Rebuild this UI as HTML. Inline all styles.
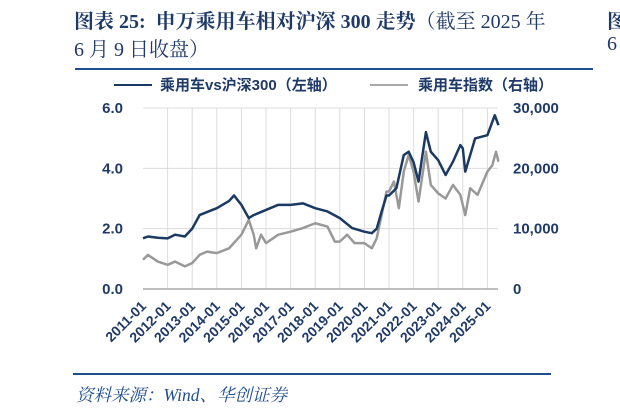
<!DOCTYPE html>
<html><head><meta charset="utf-8"><style>
body{margin:0;background:#fff;}
#wrap{position:relative;width:620px;height:414px;overflow:hidden;font-family:"Liberation Sans","Noto Sans CJK SC",sans-serif;}
.t{position:absolute;color:#1f3a68;font-family:"Liberation Serif","Noto Serif CJK SC",serif;font-size:20px;white-space:nowrap;}
</style></head><body>
<div id="wrap">
<div class="t" style="left:74px;top:5px;font-weight:bold;">图表 25:&nbsp; 申万乘用车相对沪深 300 走势<span style="font-weight:normal">（截至 2025 年</span></div>
<div class="t" style="left:74px;top:33px;">6 月 9 日收盘）</div>
<div class="t" style="left:607px;top:5px;font-weight:bold;">图</div>
<div class="t" style="left:607px;top:33px;">6</div>
<svg id="c" width="620" height="414" style="position:absolute;left:0;top:0"></svg>
</div>
<script>
const dates=[2011.0,2011.2,2011.6,2012.0,2012.3,2012.7,2013.0,2013.3,2013.6,2014.0,2014.5,2014.7,2015.0,2015.3,2015.5,2016.0,2016.5,2017.0,2017.5,2018.0,2018.5,2019.0,2019.5,2020.0,2020.3,2020.5,2020.7,2020.9,2021.0,2021.3,2021.6,2021.8,2022.0,2022.2,2022.5,2022.7,2023.0,2023.3,2023.6,2023.9,2024.0,2024.1,2024.5,2025.0,2025.3,2025.45];
const relValues=[1.68,1.74,1.70,1.68,1.80,1.74,2.0,2.45,2.55,2.68,2.92,3.1,2.79,2.35,2.45,2.62,2.79,2.79,2.84,2.68,2.57,2.35,2.02,1.9,1.85,2.0,2.57,3.1,3.1,3.34,4.44,4.55,4.2,3.56,5.2,4.55,4.27,3.78,4.22,4.77,4.66,3.89,4.99,5.1,5.76,5.43];
const idxDates=[2011.0,2011.2,2011.6,2012.0,2012.3,2012.7,2013.0,2013.3,2013.6,2014.0,2014.5,2015.0,2015.3,2015.5,2015.6,2015.8,2016.0,2016.5,2017.0,2017.5,2018.0,2018.5,2018.8,2019.0,2019.3,2019.6,2020.0,2020.3,2020.5,2020.7,2020.9,2021.0,2021.2,2021.4,2021.6,2021.8,2022.0,2022.2,2022.5,2022.7,2023.0,2023.3,2023.6,2023.9,2024.1,2024.3,2024.6,2025.0,2025.2,2025.35,2025.45];
const idxValues=[4850,5650,4550,4000,4550,3750,4300,5650,6200,5950,6750,9000,11450,9000,6750,9000,7600,9000,9500,10100,10900,10350,7850,7850,9000,7600,7600,6750,8400,12250,16150,16150,17800,13400,19450,22200,19450,14500,22750,17250,15850,15000,17250,15600,12250,16700,15600,19450,20500,22750,21100];
const leftTicks=["0.0","2.0","4.0","6.0"];
const rightTicks=["0","10,000","20,000","30,000"];
const yearLabels=["2011-01","2012-01","2013-01","2014-01","2015-01","2016-01","2017-01","2018-01","2019-01","2020-01","2021-01","2022-01","2023-01","2024-01","2025-01"];
const X0=143,X1=498,Y0=289,Y1=108;
const xs=d=>X0+(d-2011)*24.6;
const yl=v=>Y0-(v/6)*(Y0-Y1);
const yr=v=>Y0-(v/30000)*(Y0-Y1);
const svg=document.getElementById('c');const NS='http://www.w3.org/2000/svg';
function mk(t,a,p){const e=document.createElementNS(NS,t);for(const k in a)e.setAttribute(k,a[k]);(p||svg).appendChild(e);return e;}
let r=mk('line',{x1:75,y1:69,x2:593,y2:69,stroke:'#1f4e8c','stroke-width':2});


r=mk('line',{x1:73,y1:374,x2:551,y2:374,stroke:'#1f4e8c','stroke-width':2});


leftTicks.forEach((t,i)=>{const v=parseFloat(t);const y=yl(v);
 if(i>0){const g=mk('line',{x1:X0,y1:y,x2:X1,y2:y,stroke:'#dcdcdc','stroke-width':1});
 
 }
 const tx=mk('text',{x:123,y:y+5,'text-anchor':'end','font-size':15,'font-weight':'bold',fill:'#1f3a68'});tx.textContent=t;
 
 });
rightTicks.forEach(t=>{const v=parseFloat(t.replace(/,/g,''));const y=yr(v);
 const tx=mk('text',{x:513,y:y+5,'font-size':15,'font-weight':'bold',fill:'#1f3a68'});tx.textContent=t;
 
 });
yearLabels.forEach(l=>{const d=parseInt(l);const x=xs(d);
 if(d>2011){const g=mk('line',{x1:x,y1:Y1,x2:x,y2:Y0,stroke:'#dcdcdc','stroke-width':1});
 
 }
 const tx=mk('text',{x:0,y:0,'text-anchor':'end','font-size':14,'font-weight':'bold',fill:'#1f3a68',transform:`translate(${x+4},${Y0+18}) rotate(-45)`});tx.textContent=l;
 
 });
r=mk('line',{x1:X0,y1:Y0,x2:X1,y2:Y0,stroke:'#aaa','stroke-width':1.5});


let p=mk('polyline',{points:idxDates.map((d,i)=>xs(d)+','+yr(idxValues[i])).join(' '),fill:'none',stroke:'#999','stroke-width':2.5,'stroke-linejoin':'round'});


p=mk('polyline',{points:dates.map((d,i)=>xs(d)+','+yl(relValues[i])).join(' '),fill:'none',stroke:'#1b3a63','stroke-width':2.5,'stroke-linejoin':'round'});


let g=mk('g',{});


mk('line',{x1:114,y1:85,x2:152,y2:85,stroke:'#1b3a63','stroke-width':2},g);
let t=mk('text',{x:160,y:90,'font-size':15,'font-weight':'bold',fill:'#1f3a68'},g);t.textContent='乘用车vs沪深300（左轴）';


mk('line',{x1:370,y1:85,x2:408,y2:85,stroke:'#aaa','stroke-width':2},g);
t=mk('text',{x:418,y:90,'font-size':15,'font-weight':'bold',fill:'#1f3a68'},g);t.textContent='乘用车指数（右轴）';


t=mk('text',{x:76,y:401,'font-size':17.5,'font-style':'italic',fill:'#1f4e8c','font-family':'"Liberation Serif","Noto Serif CJK SC",serif'});t.textContent='资料来源：Wind、华创证券';


</script>
</body></html>
